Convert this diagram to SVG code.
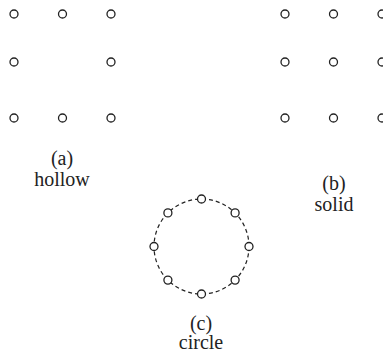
<svg xmlns="http://www.w3.org/2000/svg" width="383" height="358" viewBox="0 0 383 358">
<style>
.pt{fill:#fff;stroke:#222;stroke-width:1.3}
.lbl{font-family:"Liberation Serif","Times New Roman",serif;font-size:20px;fill:#222;text-anchor:middle}
.ring{fill:none;stroke:#222;stroke-width:1.2;stroke-dasharray:4 3}
</style>
<rect width="383" height="358" fill="#fff"/>
<g id="hollow">
<circle class="pt" cx="14" cy="14" r="4"/><circle class="pt" cx="62.5" cy="14" r="4"/><circle class="pt" cx="111" cy="14" r="4"/>
<circle class="pt" cx="14" cy="62" r="4"/><circle class="pt" cx="111" cy="62" r="4"/>
<circle class="pt" cx="14" cy="118" r="4"/><circle class="pt" cx="62.5" cy="118" r="4"/><circle class="pt" cx="111" cy="118" r="4"/>
<text class="lbl" x="62" y="165">(a)</text>
<text class="lbl" x="62" y="186">hollow</text>
</g>
<g id="solid">
<circle class="pt" cx="285" cy="14" r="4"/><circle class="pt" cx="333.5" cy="14" r="4"/><circle class="pt" cx="382" cy="14" r="4"/>
<circle class="pt" cx="285" cy="62" r="4"/><circle class="pt" cx="333.5" cy="62" r="4"/><circle class="pt" cx="382" cy="62" r="4"/>
<circle class="pt" cx="285" cy="118" r="4"/><circle class="pt" cx="333.5" cy="118" r="4"/><circle class="pt" cx="382" cy="118" r="4"/>
<text class="lbl" x="334" y="190">(b)</text>
<text class="lbl" x="334" y="211">solid</text>
</g>
<g id="circle">
<circle class="ring" cx="201.5" cy="246.5" r="47.5"/>
<circle class="pt" cx="201.5" cy="199" r="4"/>
<circle class="pt" cx="235.1" cy="212.9" r="4"/>
<circle class="pt" cx="249" cy="246.5" r="4"/>
<circle class="pt" cx="235.1" cy="280.1" r="4"/>
<circle class="pt" cx="201.5" cy="294" r="4"/>
<circle class="pt" cx="167.9" cy="280.1" r="4"/>
<circle class="pt" cx="154" cy="246.5" r="4"/>
<circle class="pt" cx="167.9" cy="212.9" r="4"/>
<text class="lbl" x="201" y="330">(c)</text>
<text class="lbl" x="201" y="349">circle</text>
</g>
</svg>
